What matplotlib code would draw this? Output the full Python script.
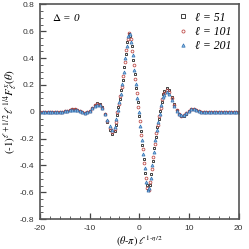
import numpy as np
import matplotlib
matplotlib.use("Agg")
import matplotlib.pyplot as plt
from matplotlib.ticker import MultipleLocator

plt.rcParams["mathtext.fontset"] = "stix"

# outer grids (same for the three series)
x_left = np.arange(-20.0, -4.99, 0.5)
x_right = np.arange(5.0, 20.01, 0.5)

# central grids, one per series (different ell -> different sampling)
x_c51 = np.arange(-4.8, 4.81, 0.3)
x_c101 = np.arange(-4.7, 4.61, 0.3)
x_c201 = np.arange(-4.6, 4.71, 0.3)

# l = 51
y51_left = [0.0, 0.0, 0.0, 0.0, 0.0, 0.0, 0.001, 0.001, 0.001, 0.002, 0.004, 0.009, 0.014, 0.02, 0.02,
            0.014, 0.007, -0.002, -0.008, -0.005, 0.009, 0.031, 0.053, 0.064, 0.057, 0.033, -0.017,
            -0.077, -0.132, -0.163, -0.143]
y51_mid = [-0.095, -0.025, 0.035, 0.095, 0.16, 0.24, 0.335, 0.43, 0.52, 0.58, 0.565, 0.49, 0.385, 0.28,
           0.175, 0.07, -0.035, -0.14, -0.245, -0.35, -0.455, -0.545, -0.585, -0.545, -0.46, -0.37,
           -0.27, -0.185, -0.115, -0.055, 0.005, 0.075, 0.13]
y51_right = [0.154, 0.176, 0.16, 0.11, 0.055, 0.011, -0.019, -0.031, -0.029, -0.013, 0.007, 0.022,
             0.024, 0.015, 0.007, 0.002, 0.001, 0.0, 0.0, 0.0, 0.0, 0.0, 0.0, 0.0, 0.0, 0.0, 0.0, 0.0,
             0.0, 0.0, 0.0]

# l = 101
y101_left = [0.0, 0.0, 0.0, 0.0, 0.0, 0.0, 0.001, 0.001, 0.001, 0.002, 0.004, 0.008, 0.013, 0.018, 0.018,
             0.013, 0.006, -0.002, -0.007, -0.004, 0.008, 0.028, 0.048, 0.058, 0.052, 0.03, -0.015,
             -0.07, -0.12, -0.148, -0.13]
y101_mid = [-0.075, -0.005, 0.055, 0.115, 0.185, 0.27, 0.37, 0.46, 0.545, 0.585, 0.545, 0.455, 0.35,
            0.245, 0.14, 0.035, -0.07, -0.175, -0.28, -0.385, -0.49, -0.565, -0.58, -0.52, -0.43,
            -0.335, -0.24, -0.16, -0.095, -0.035, 0.025, 0.095]
y101_right = [0.14, 0.16, 0.145, 0.1, 0.05, 0.01, -0.017, -0.028, -0.026, -0.012, 0.006, 0.02, 0.022,
              0.014, 0.006, 0.002, 0.001, 0.0, 0.0, 0.0, 0.0, 0.0, 0.0, 0.0, 0.0, 0.0, 0.0, 0.0, 0.0,
              0.0, 0.0]

# l = 201
y201_left = [0.0, 0.0, 0.0, 0.0, 0.0, 0.0, 0.001, 0.001, 0.001, 0.002, 0.004, 0.007, 0.012, 0.016,
             0.016, 0.012, 0.005, -0.002, -0.006, -0.004, 0.007, 0.025, 0.043, 0.052, 0.047, 0.027,
             -0.014, -0.063, -0.108, -0.133, -0.117]
y201_mid = [-0.05, 0.015, 0.075, 0.135, 0.21, 0.3, 0.4, 0.49, 0.565, 0.58, 0.52, 0.42, 0.315, 0.21,
            0.105, 0.0, -0.105, -0.21, -0.315, -0.42, -0.52, -0.58, -0.565, -0.49, -0.4, -0.3, -0.21,
            -0.135, -0.075, -0.015, 0.05, 0.11]
y201_right = [0.126, 0.144, 0.131, 0.09, 0.045, 0.009, -0.015, -0.025, -0.023, -0.011, 0.005, 0.018,
              0.02, 0.013, 0.005, 0.002, 0.001, 0.0, 0.0, 0.0, 0.0, 0.0, 0.0, 0.0, 0.0, 0.0, 0.0, 0.0,
              0.0, 0.0, 0.0]

labels = ["ℓ = 51", "ℓ = 101", "ℓ = 201"]
xtick_vals = [-20, -10, 0, 10, 20]
xtick_labels = ["-20", "-10", "0", "10", "20"]
ytick_vals = [-0.8, -0.6, -0.4, -0.2, 0.0, 0.2, 0.4, 0.6, 0.8]
ytick_labels = ["-0.8", "-0.6", "-0.4", "-0.2", "0", "0.2", "0.4", "0.6", "0.8"]

x51 = np.concatenate([x_left, x_c51, x_right])
y51 = np.concatenate([y51_left, y51_mid, y51_right])
x101 = np.concatenate([x_left, x_c101, x_right])
y101 = np.concatenate([y101_left, y101_mid, y101_right])
x201 = np.concatenate([x_left, x_c201, x_right])
y201 = np.concatenate([y201_left, y201_mid, y201_right])

fig = plt.figure(figsize=(2.49, 2.49), dpi=100)
ax = fig.add_axes([0.161, 0.12, 0.797, 0.862])

ax.plot(x51, y51, linestyle="none", marker="s", ms=2.0, mfc="none", mec="#222222", mew=0.6,
        label=labels[0])
ax.plot(x101, y101, linestyle="none", marker="o", ms=2.0, mfc="none", mec="#c0504d", mew=0.6,
        label=labels[1])
ax.plot(x201, y201, linestyle="none", marker="^", ms=2.2, mfc="#8fbde6", mec="#2f6fb0", mew=0.5,
        label=labels[2])

ax.set_xlim(-20, 20)
ax.set_ylim(-0.8, 0.8)
ax.set_xticks(xtick_vals)
ax.set_xticklabels(xtick_labels)
ax.set_yticks(ytick_vals)
ax.set_yticklabels(ytick_labels)
ax.xaxis.set_minor_locator(MultipleLocator(2))
ax.yaxis.set_minor_locator(MultipleLocator(0.05))
ax.tick_params(which="both", direction="in", top=False, right=False, colors="#444444",
               labelcolor="#333333", labelsize=6)
ax.tick_params(axis="x", which="both", pad=4.5)
ax.tick_params(axis="y", which="both", pad=4)
ax.tick_params(which="major", length=4, width=0.9)
ax.tick_params(which="minor", length=2, width=0.6)
for lab in ax.get_xticklabels() + ax.get_yticklabels():
    lab.set_family("Liberation Sans")
for s in ax.spines.values():
    s.set_color("#555555")
    s.set_linewidth(1.2)

ax.set_xlabel(r"$(\theta\text{-}\pi)\;\ell^{1\text{-}\eta/2}$", fontsize=7.5)
ax.xaxis.set_label_coords(0.5, -0.065)
ax.xaxis.label.set_va("top")
ax.set_ylabel(r"$(\text{-}1)^{\ell+1/2}\,\ell^{1/4}F_\ell^{x}(\theta)$", fontsize=8, labelpad=1)

ax.text(-17.6, 0.70, r"$\Delta$ = 0", fontsize=8, style="italic",
        family=["Liberation Serif", "DejaVu Serif"], va="center")

leg = ax.legend(loc="upper right", frameon=False, handletextpad=0.5, borderaxespad=0.2,
                labelspacing=0.2, markerscale=1.1, handlelength=1.0,
                prop={"family": ["Liberation Serif", "DejaVu Serif"], "style": "italic", "size": 8.5})

fig.savefig("out.png", dpi=100)
